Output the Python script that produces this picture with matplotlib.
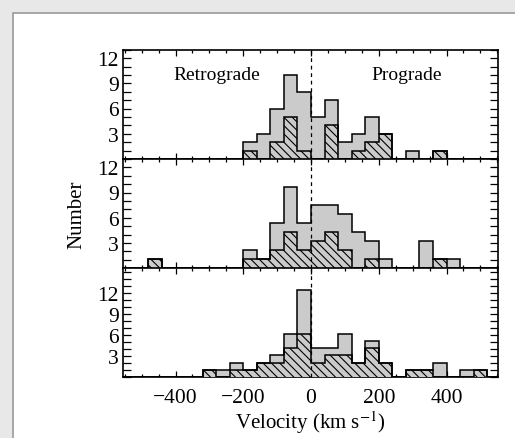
import matplotlib
matplotlib.use("Agg")
import matplotlib.pyplot as plt
from matplotlib.patches import Rectangle
from matplotlib.ticker import MultipleLocator, FixedLocator
import numpy as np

# Bin edges (km/s), 40 km/s bins
bin_edges = [-560, -520, -480, -440, -400, -360, -320, -280, -240, -200, -160, -120,
             -80, -40, 0, 40, 80, 120, 160, 200, 240, 280, 320, 360, 400, 440, 480,
             520, 560]

# Top panel: all (grey) and subset (hatched)
top_all = [0, 0, 0, 0, 0, 0, 0, 0, 0, 2, 3, 6, 10, 8, 5, 7, 2, 3, 5, 3, 0, 1, 0, 1, 0, 0, 0, 0]
top_sub = [0, 0, 0, 0, 0, 0, 0, 0, 0, 1, 0, 2, 5, 1, 0, 4, 0, 1, 2, 3, 0, 0, 0, 1, 0, 0, 0, 0]

# Middle panel
mid_all = [0, 0, 1.07, 0, 0, 0, 0, 0, 0, 2.14, 1.07, 5.35, 9.6, 5.35, 7.5, 7.5, 6.4, 4.3,
           3.2, 1.07, 0, 0, 3.2, 1.07, 1.07, 0, 0, 0]
mid_sub = [0, 0, 1.07, 0, 0, 0, 0, 0, 0, 1.07, 1.07, 2.14, 4.3, 2.14, 3.2, 4.3, 2.14, 0,
           1.07, 0, 0, 0, 0, 1.07, 0, 0, 0, 0]

# Bottom panel
bot_all = [0, 0, 0, 0, 0, 0, 1.04, 1.04, 2.08, 1.04, 2.08, 3.13, 6.25, 12.5, 4.17, 4.17,
           6.25, 2.08, 5.2, 2.08, 0, 1.04, 1.04, 2.08, 0, 1.04, 1.04, 0]
bot_sub = [0, 0, 0, 0, 0, 0, 1.04, 0, 1.04, 1.04, 2.08, 2.08, 4.17, 6.25, 2.08, 3.13,
           3.13, 2.08, 4.17, 2.08, 0, 1.04, 1.04, 0, 0, 0, 1.04, 0]

ylims = [13, 13, 15.6]
panels = [(top_all, top_sub), (mid_all, mid_sub), (bot_all, bot_sub)]

plt.rcParams['font.family'] = ['Liberation Serif', 'DejaVu Serif']
plt.rcParams['mathtext.fontset'] = 'stix'
plt.rcParams['hatch.linewidth'] = 0.8
plt.rcParams['hatch.color'] = 'black'

fig = plt.figure(figsize=(5.15, 4.39), dpi=100)
fig.patch.set_facecolor('#e8e8e8')
bg = Rectangle((13 / 515, -0.1), 1.2, 1.1 - 14 / 439, transform=fig.transFigure,
               facecolor='white', edgecolor='#9a9a9a', lw=1.2, zorder=-10)
fig.patches.append(bg)

left, right = 123 / 515, 498 / 515
bottom, top = 1 - 378.3 / 439, 1 - 50.7 / 439
h = (top - bottom) / 3
grey = '#cbcbcb'

axes = []
for i, ((a, s), yl) in enumerate(zip(panels, ylims)):
    ax = fig.add_axes([left, top - (i + 1) * h, right - left, h])
    ax.set_zorder(5)
    ax.set_facecolor('white')
    ax.stairs(a, bin_edges, fill=True, facecolor=grey, edgecolor='none', zorder=2)
    ax.stairs(s, bin_edges, fill=True, facecolor=grey, edgecolor='black', hatch='\\\\\\\\',
              linewidth=0, zorder=3)
    ax.stairs(s, bin_edges, fill=False, edgecolor='black', linewidth=1.1, zorder=4, baseline=0)
    ax.stairs(a, bin_edges, fill=False, edgecolor='black', linewidth=1.1, zorder=4, baseline=0)
    ax.axvline(0, color='black', ls=(0, (3, 3)), lw=0.9, zorder=5)
    ax.set_xlim(-555, 552)
    ax.set_ylim(0, yl)
    ax.yaxis.set_major_locator(FixedLocator([3, 6, 9, 12]))
    ax.yaxis.set_minor_locator(MultipleLocator(1))
    ax.xaxis.set_major_locator(MultipleLocator(200))
    ax.xaxis.set_minor_locator(MultipleLocator(50))
    ax.tick_params(which='both', direction='in', top=True, right=True, width=0.9,
                   labelsize=15.5, pad=3)
    ax.tick_params(axis='y', which='both', length=5.5)
    ax.tick_params(axis='x', which='major', length=4, pad=8)
    ax.tick_params(axis='x', which='minor', length=2.5)
    for sp in ax.spines.values():
        sp.set_linewidth(1.2)
    if i < 2:
        ax.set_xticklabels([])
    axes.append(ax)

axes[0].text(-277, 10, 'Retrograde', fontsize=14, ha='center', va='center')
axes[0].text(282, 10, 'Prograde', fontsize=14, ha='center', va='center')
axes[2].set_xlabel('Velocity (km s$^{-1}$)', fontsize=15, labelpad=1)
axes[1].set_ylabel('Number', fontsize=15, labelpad=8)

fig.savefig('out.png', dpi=100, facecolor=fig.get_facecolor())
